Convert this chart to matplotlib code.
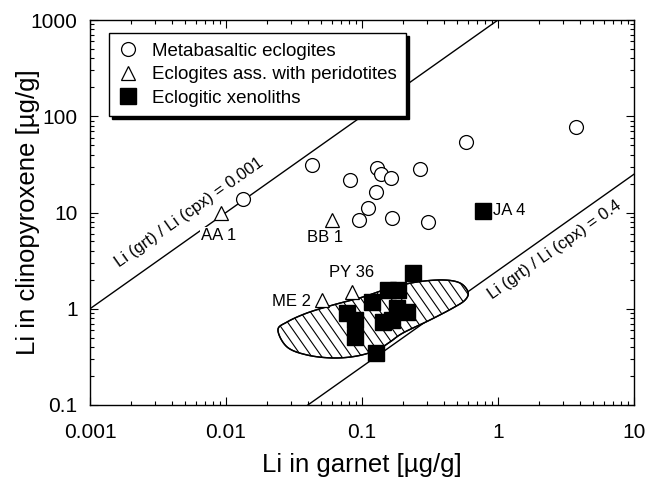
import numpy as np
import matplotlib
matplotlib.use("Agg")
import matplotlib.pyplot as plt
from matplotlib import ticker
from matplotlib.patches import Polygon
from matplotlib.collections import LineCollection

plt.rcParams['font.family'] = ['Liberation Sans', 'DejaVu Sans']

# metabasaltic eclogites (open circles)
meta_grt = [0.0133, 0.0428, 0.129, 0.138, 0.163, 0.267, 0.0817, 0.127,
            0.111, 0.095, 0.166, 0.305, 0.58, 3.75]
meta_cpx = [13.8, 31.2, 29.0, 25.1, 22.8, 28.3, 21.8, 16.3,
            11.1, 8.4, 8.8, 8.0, 54, 77]

# eclogites associated with peridotites (open triangles)
perid_names = ['AA 1', 'BB 1', 'ME 2', 'PY 36']
perid_grt = [0.0092, 0.060, 0.051, 0.084]
perid_cpx = [9.9, 8.4, 1.23, 1.49]

# eclogitic xenoliths (filled squares), last one is JA 4
xeno_grt = [0.237, 0.155, 0.184, 0.119, 0.078, 0.089, 0.181, 0.214,
            0.143, 0.166, 0.089, 0.127, 0.776]
xeno_cpx = [2.35, 1.57, 1.57, 1.17, 0.90, 0.76, 1.02, 0.92,
            0.73, 0.76, 0.51, 0.35, 10.4]
xeno_named = 'JA 4'

# outline of the hatched field
field_grt = [0.0241, 0.0281, 0.0394, 0.0612, 0.1017, 0.1607, 0.2536, 0.394,
             0.526, 0.602, 0.572, 0.467, 0.316, 0.200, 0.1607, 0.129,
             0.0919, 0.0612, 0.0394, 0.0281]
field_cpx = [0.601, 0.728, 0.903, 1.094, 1.325, 1.643, 1.897, 1.99,
             1.85, 1.49, 1.23, 1.02, 0.764, 0.560, 0.452, 0.373,
             0.323, 0.308, 0.331, 0.401]

# partition lines Li(grt)/Li(cpx)
ratios = [0.001, 0.4]
ratio_labels = ['Li (grt) / Li (cpx) = 0.001', 'Li (grt) / Li (cpx) = 0.4']
ratio_label_pos = [(0.0054, 10.1), (2.63, 4.08)]


def smooth_closed(xs, ys, n=12):
    # closed Catmull-Rom curve through the outline, done in log space
    lx, ly = np.log10(xs), np.log10(ys)
    k = len(lx)
    out_x, out_y = [], []
    for i in range(k):
        p0, p1, p2, p3 = [(lx[(i + j) % k], ly[(i + j) % k]) for j in (-1, 0, 1, 2)]
        for t in np.linspace(0, 1, n, endpoint=False):
            t2, t3 = t * t, t * t * t
            for c, arr in ((0, out_x), (1, out_y)):
                v = 0.5 * (2 * p1[c] + (-p0[c] + p2[c]) * t
                           + (2 * p0[c] - 5 * p1[c] + 4 * p2[c] - p3[c]) * t2
                           + (-p0[c] + 3 * p1[c] - 3 * p2[c] + p3[c]) * t3)
                arr.append(v)
    return 10 ** np.array(out_x), 10 ** np.array(out_y)


fig = plt.figure(figsize=(6.45, 4.8), dpi=100)
ax = fig.add_axes([90 / 645, 1 - 405 / 480, 544 / 645, 385 / 480])
ax.set_xscale('log')
ax.set_yscale('log')
ax.set_xlim(0.001, 10)
ax.set_ylim(0.1, 1000)

# ratio lines
xl = np.array([0.001, 10.0])
for r in ratios:
    ax.plot(xl, xl / r, color='black', lw=1.0, zorder=1)

# hatched field
fx, fy = smooth_closed(field_grt, field_cpx)
field = Polygon(np.column_stack([fx, fy]), closed=True,
                facecolor='white', edgecolor='black', lw=1.0, zorder=2)
ax.add_patch(field)
bb = ax.get_window_extent()
w, h = bb.width, bb.height
ang = np.radians(55)
dx = (h / np.tan(ang)) / w
step = 10.0 / w
segs = [[(x0, 1.0), (x0 + dx, 0.0)] for x0 in np.arange(-1.0, 1.5, step)]
hatch = LineCollection(segs, colors='black', linewidths=0.8,
                       transform=ax.transAxes, zorder=2.5)
hatch.set_clip_path(field)
ax.add_collection(hatch)
ax.add_patch(Polygon(np.column_stack([fx, fy]), closed=True,
                     facecolor='none', edgecolor='black', lw=1.0, zorder=2.6))

# data
ax.plot(meta_grt, meta_cpx, 'o', ms=10, mfc='white', mec='black', mew=0.9,
        ls='none', zorder=4, label='Metabasaltic eclogites')
ax.plot(perid_grt, perid_cpx, '^', ms=10, mfc='white', mec='black', mew=0.9,
        ls='none', zorder=4, label='Eclogites ass. with peridotites')
ax.plot(xeno_grt, xeno_cpx, 's', ms=11, mfc='black', mec='black',
        ls='none', zorder=4, label='Eclogitic xenoliths')

# sample labels
lab_kw = dict(textcoords='offset points', fontsize=12, zorder=3,
              bbox=dict(facecolor='white', edgecolor='none', pad=0.5))
ax.annotate(perid_names[0], (perid_grt[0], perid_cpx[0]), xytext=(-2, -16),
            ha='center', va='center', **lab_kw)
ax.annotate(perid_names[1], (perid_grt[1], perid_cpx[1]), xytext=(-5, -13),
            ha='center', va='center', **lab_kw)
ax.annotate(perid_names[2], (perid_grt[2], perid_cpx[2]), xytext=(-8, -1),
            ha='right', va='center', **lab_kw)
ax.annotate(perid_names[3], (perid_grt[3], perid_cpx[3]), xytext=(0, 14),
            ha='center', va='center', **lab_kw)
ax.annotate(xeno_named, (xeno_grt[-1], xeno_cpx[-1]), xytext=(7, 0),
            ha='left', va='center', **lab_kw)

# line labels, rotated along the lines
p1 = ax.transData.transform((0.001, 1.0))
p2 = ax.transData.transform((0.01, 10.0))
rot = np.degrees(np.arctan2(p2[1] - p1[1], p2[0] - p1[0]))
for txt, (tx, ty) in zip(ratio_labels, ratio_label_pos):
    ax.text(tx, ty, txt, fontsize=12, rotation=rot, rotation_mode='anchor',
            ha='center', va='center', zorder=3)

fmt = ticker.FuncFormatter(lambda v, _: f"{v:g}")
ax.xaxis.set_major_formatter(fmt)
ax.yaxis.set_major_formatter(fmt)
ax.xaxis.set_minor_formatter(ticker.NullFormatter())
ax.yaxis.set_minor_formatter(ticker.NullFormatter())
ax.tick_params(which='both', direction='in', top=True, right=True, width=0.8)
ax.tick_params(which='major', length=6, labelsize=15)
ax.tick_params(axis='x', which='major', pad=13)
ax.tick_params(axis='y', which='major', pad=9)
ax.tick_params(which='minor', length=3)
for s in ax.spines.values():
    s.set_linewidth(1.0)

ax.set_xlabel('Li in garnet [µg/g]', fontsize=18.5, labelpad=8)
ax.set_ylabel('Li in clinopyroxene [µg/g]', fontsize=18.5, labelpad=-7)

leg = ax.legend(loc='upper left', bbox_to_anchor=(0.035, 0.966),
                borderaxespad=0, fontsize=13.5, frameon=True, fancybox=False,
                framealpha=1, edgecolor='black', handlelength=1.0,
                handletextpad=0.8, labelspacing=0.35, borderpad=0.5,
                shadow={'color': 'black', 'alpha': 1})
leg.get_frame().set_linewidth(1.0)
leg.set_zorder(5)

fig.savefig('out.png', dpi=100)
